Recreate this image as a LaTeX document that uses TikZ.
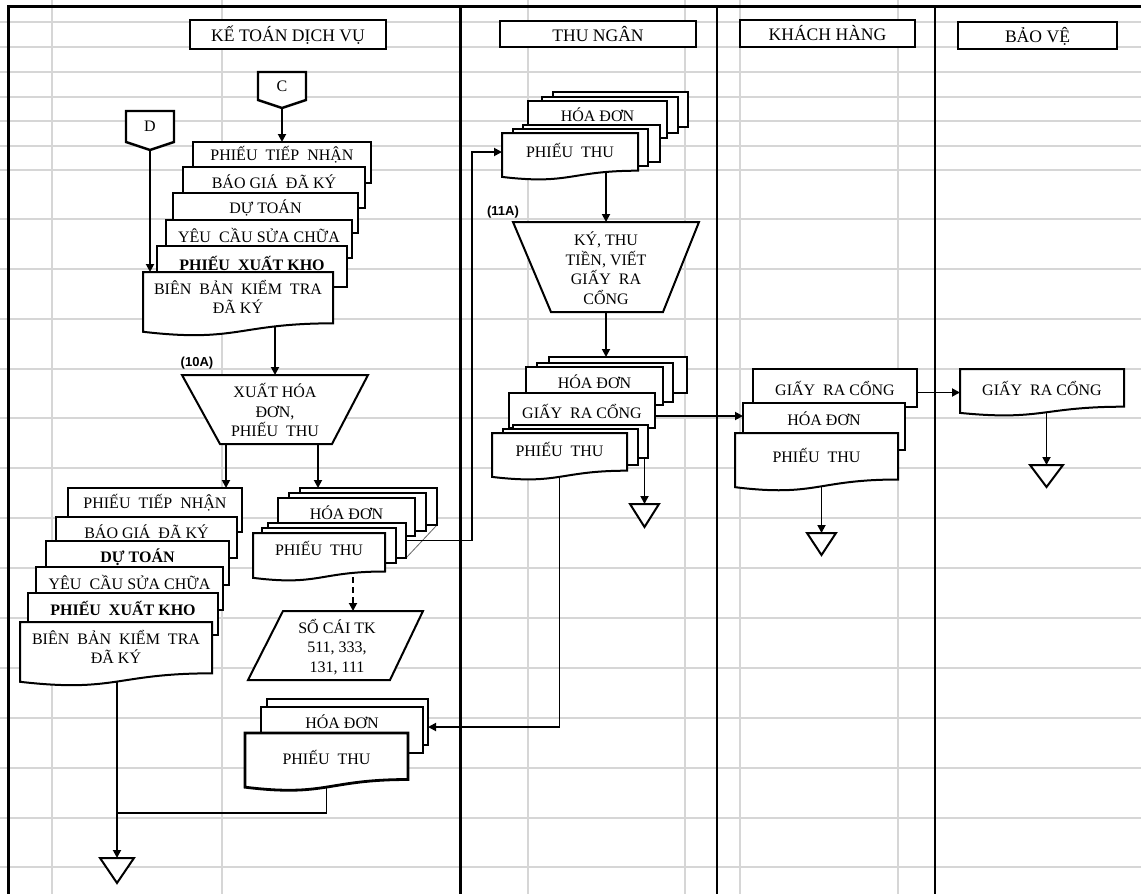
\documentclass[tikz,border=0pt]{standalone}
\usepackage{fontspec}
\setmainfont{Liberation Serif}
\newfontfamily\tagfont{Liberation Sans}
\usetikzlibrary{arrows.meta}
\pgfdeclarelayer{grid}
\pgfdeclarelayer{conn}
\pgfsetlayers{grid,conn,main}

\tikzset{
  shapebox/.style={draw=none, fill=none, inner sep=0pt, outer sep=0pt},
  rbox/.style={draw, fill=white, line width=1pt, inner sep=0pt, outer sep=0pt},
  thickbox/.style={line width=1.4pt},
  docshape/.style={draw, fill=white, line width=1pt, line join=miter},
  lbl/.style={align=center, inner sep=0pt, font=\fontsize{8}{9.75}\selectfont},
  tag/.style={inner sep=0pt, font=\tagfont\bfseries\fontsize{6.5}{8}\selectfont},
  conn/.style={line width=0.9pt, -{Triangle[length=4pt,width=4pt]}},
  plain/.style={line width=0.9pt},
  gridline/.style={line width=0.7pt, black!16},
}
\newcommand\hdfont{\fontsize{8.8}{10}\selectfont}

% rectangle box: [style]{name}{x0}{y0}{x1}{y1}{text y}{text}
\newcommand\RBox[8][]{%
  \node[rbox,#1,minimum width={(#5-#3)*0.5pt},minimum height={(#6-#4)*0.5pt}]
    (#2) at ({(#3+#5)/2},{(#4+#6)/2}) {};
  \node[lbl] (#2-t) at ({(#3+#5)/2},#7) {#8};}
% back sheet of a stack: {name}{x0}{y0}{x1}{y1}
\newcommand\PBox[5]{%
  \node[rbox,minimum width={(#4-#2)*0.5pt},minimum height={(#5-#3)*0.5pt}]
    (#1) at ({(#2+#4)/2},{(#3+#5)/2}) {};}
% document with wavy bottom: [style]{name}{x0}{y0}{x1}{y1}{text y}{text}
\newcommand\DocBox[8][]{%
  \node[shapebox,minimum width={(#5-#3)*0.5pt},minimum height={(#6-#4)*0.5pt}]
    (#2) at ({(#3+#5)/2},{(#4+#6)/2}) {};
  \path[docshape,#1] (#3,#4) -- (#5,#4) -- (#5,{#4+0.802*(#6-#4)})
    .. controls ({(#3+#5)/2},{#4+0.802*(#6-#4)}) and ({(#3+#5)/2},{#4+1.107*(#6-#4)})
    .. (#3,{#4+0.934*(#6-#4)}) -- cycle;
  \node[lbl] (#2-t) at ({(#3+#5)/2},#7) {#8};}
% merge triangle: {name}{x0}{x1}{ytop}{yapex}
\newcommand\MergeTri[5]{%
  \node[shapebox,minimum width={(#3-#2)*0.5pt},minimum height={(#5-#4)*0.5pt}]
    (#1) at ({(#2+#3)/2},{(#4+#5)/2}) {};
  \draw[docshape] (#2,#4) -- (#3,#4) -- ({(#2+#3)/2},#5) -- cycle;
  \draw[line width=1.4pt] (#2,#4) -- (#3,#4);}
% off-page connector: {name}{x0}{x1}{ytop}{yside}{ypoint}{text}
\newcommand\OffPage[7]{%
  \node[shapebox,minimum width={(#3-#2)*0.5pt},minimum height={(#6-#4)*0.5pt}]
    (#1) at ({(#2+#3)/2},{(#4+#6)/2}) {};
  \draw[docshape,line width=1.2pt] (#2,#4) -- (#3,#4) -- (#3,#5) -- ({(#2+#3)/2},#6) -- (#2,#5) -- cycle;
  \node[lbl] (#1-t) at ({(#2+#3)/2},{(#4+#5)/2}) {#7};}

\begin{document}
\begin{tikzpicture}[x=0.5pt,y=-0.5pt]
\useasboundingbox (0,0) rectangle (1141,894);

% spreadsheet grid, outer frame and swimlane borders
\begin{pgfonlayer}{grid}
  \fill[white] (0,0) rectangle (1141,894);
  \foreach \y in {22,47,72,97,121,146,170,219,269,319,369,418,468,518,568,618,668,718,768,818,867}
    \draw[gridline] (0,\y) -- (1141,\y);
  \foreach \x in {52,222,528,685,740,898}
    \draw[gridline] (\x,0) -- (\x,894);
  \draw[line width=1.5pt] (8,894) -- (8,6) -- (1141,6);
  \draw[line width=1.5pt] (460,6) -- (460,894);
  \draw[line width=1pt] (717,6) -- (717,894);
  \draw[line width=1.2pt] (935,6) -- (935,894);
\end{pgfonlayer}

% lane headers
\RBox[thickbox]{hKT}{190}{20}{386}{49}{35}{\hdfont KẾ TOÁN DỊCH VỤ}
\RBox[thickbox]{hTN}{500}{21}{696}{47}{34}{\hdfont THU NGÂN}
\RBox[thickbox]{hKH}{740}{20}{915}{47}{33}{\hdfont KHÁCH HÀNG}
\RBox[thickbox]{hBV}{958}{22}{1117}{49}{36}{\hdfont BẢO VỆ}

% ---- KẾ TOÁN DỊCH VỤ ----
\OffPage{C}{258}{306}{72}{100}{108}{C}
\OffPage{D}{126}{174}{111}{142}{150}{D}

\RBox{a1}{193}{142}{371}{183}{155}{PHIẾU~~TIẾP~~NHẬN}
\RBox{a2}{183}{167}{365}{208}{182}{BÁO GIÁ~~ĐÃ KÝ}
\RBox{a3}{173}{193}{358}{233}{208}{DỰ TOÁN}
\RBox{a4}{166}{220}{352}{258}{235}{YÊU~~CẦU SỬA CHỮA}
\RBox[thickbox]{a5}{157}{246}{347}{287}{263}{\textbf{PHIẾU~~XUẤT KHO}}
\DocBox{a6}{143}{272}{333}{336}{297}{BIÊN~~BẢN~~KIỂM~~TRA\\ĐÃ KÝ}

\node[shapebox,minimum width=93pt,minimum height=34.5pt] (t10) at (275,409.5) {};
\draw[docshape] (182,375) -- (368,375) -- (332,444) -- (220,444) -- cycle;
\node[lbl] (t10-t) at (275,410) {XUẤT HÓA\\ĐƠN,\\PHIẾU~~THU};
\node[tag] (t10-tag) at (197,363) {(10A)};

\RBox{b1}{68}{488}{242}{532}{503}{PHIẾU~~TIẾP~~NHẬN}
\RBox{b2}{56}{517}{237}{558}{532}{BÁO GIÁ~~ĐÃ KÝ}
\RBox[thickbox]{b3}{46}{541}{229}{585}{557}{\textbf{DỰ TOÁN}}
\RBox{b4}{36}{567}{223}{610}{582}{YÊU~~CẦU SỬA CHỮA}
\RBox{b5}{28}{593}{218}{635}{608}{\textbf{PHIẾU~~XUẤT KHO}}
\DocBox{b6}{20}{622}{212}{686}{647}{BIÊN~~BẢN~~KIỂM~~TRA\\ĐÃ KÝ}

\PBox{c1}{300}{488}{437}{525}
\PBox{c2}{289}{493}{426}{531}
\RBox{c3}{278}{498}{415}{536}{513}{HÓA ĐƠN}
\PBox{d1}{268}{523}{406}{558}
\PBox{d2}{262}{528}{396}{563}
\DocBox{d3}{253}{533}{385}{581}{548}{PHIẾU~~THU}

\node[shapebox,minimum width=87.5pt,minimum height=34.5pt] (s) at (335.5,645.5) {};
\draw[docshape] (283,611) -- (423,611) -- (390,680) -- (248,680) -- cycle;
\node[lbl] (s-t) at (337,647) {SỔ CÁI TK\\511, 333,\\131, 111};

\PBox{g1}{267}{699}{428}{745}
\RBox{g2}{261}{707}{423}{753}{722}{HÓA ĐƠN}
\DocBox[thickbox]{g3}{245}{733}{408}{791}{757}{PHIẾU~~THU}

\MergeTri{e1}{100}{134}{858}{883}

% ---- THU NGÂN ----
\PBox{f1}{553}{92}{688}{127}
\PBox{f2}{542}{97}{678}{133}
\RBox{f3}{528}{101}{667}{138}{115}{HÓA ĐƠN}
\PBox{h1}{523}{125}{660}{162}
\PBox{h2}{513}{129}{648}{166}
\DocBox{h3}{502}{133}{638}{180}{150}{PHIẾU~~THU}

\node[shapebox,minimum width=93pt,minimum height=45pt] (t11) at (606,267) {};
\draw[docshape] (513,222) -- (699,222) -- (663,312) -- (551,312) -- cycle;
\draw[line width=1.4pt] (513,222) -- (699,222);
\node[lbl] (t11-t) at (606,268) {KÝ, THU\\TIỀN, VIẾT\\GIẤY~~RA\\CỔNG};
\node[tag] (t11-tag) at (503,212) {(11A)};

\PBox{k1}{549}{357}{687}{393}
\PBox{k2}{537}{363}{673}{402}
\RBox{k3}{526}{367}{663}{405}{382}{HÓA ĐƠN}
\RBox{gr}{509}{393}{655}{428}{411}{GIẤY~~RA CỔNG}
\PBox{m1}{513}{425}{648}{458}
\PBox{m2}{503}{429}{638}{465}
\DocBox{m3}{492}{433}{627}{480}{449}{PHIẾU~~THU}

\MergeTri{e2}{630}{659}{504}{527}

% ---- KHÁCH HÀNG ----
\RBox[thickbox]{n1}{753}{369}{917}{407}{388}{GIẤY~~RA CỔNG}
\RBox{n2}{743}{403}{905}{450}{419}{HÓA ĐƠN}
\DocBox{n3}{735}{433}{898}{491}{455}{PHIẾU~~THU}
\MergeTri{e3}{807}{836}{533}{555}

% ---- BẢO VỆ ----
\DocBox{p1}{960}{369}{1124}{416}{388}{GIẤY~~RA CỔNG}
\MergeTri{e4}{1030}{1063}{465}{487}

% ---- connectors ----
\coordinate (bus) at (472,541);
\coordinate (jn) at (117,813);
\begin{pgfonlayer}{conn}
  \draw[conn] (C.south) -- (a1.north);
  \draw[conn] (D.south) -- (D.south |- a6.north);
  \draw[conn] (t10.north |- a6.center) -- (t10.north);
  \draw[conn] ([xshift=-24.5pt]t10.south) -- ([xshift=-24.5pt]t10.south |- b1.north);
  \draw[conn] ([xshift=21.5pt]t10.south) -- ([xshift=21.5pt]t10.south |- c1.north);
  \draw[conn] (e1.north |- b6.center) -- (e1.north);
  \draw[plain] (g3.center) |- (jn);
  \draw[conn, densely dashed] ([xshift=8.75pt]s.north |- d3.center) -- ([xshift=8.75pt]s.north);
  \draw[line width=0.4pt, black!60] (d1.south east) -- (c1.south east);
  \draw[conn] (d1.east) -- (d1.east -| bus) |- ([yshift=2.25pt]h3.west);
  \draw[conn] (t11.north |- h3.center) -- (t11.north);
  \draw[conn] (t11.south) -- (t11.south |- k1.north);
  \draw[conn] (e2.north |- m1.center) -- (e2.north);
  \draw[conn] ([yshift=-2.75pt]gr.east) -- ([yshift=-2.75pt]gr.east -| n2.west);
  \draw[conn] (m3.center) |- ([yshift=-2.5pt]g1.east);
  \draw[conn] (n1.east |- p1.west) -- (p1.west);
  \draw[conn] (e3.north |- n3.center) -- (e3.north);
  \draw[conn] (e4.north |- p1.center) -- (e4.north);
\end{pgfonlayer}
\end{tikzpicture}
\end{document}
